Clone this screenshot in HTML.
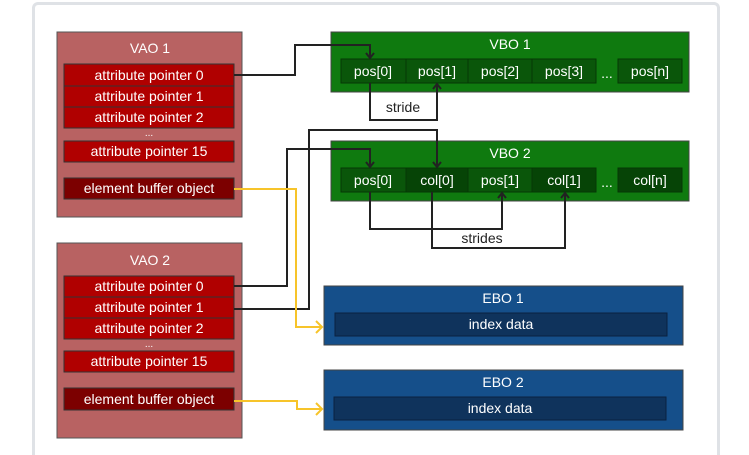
<!DOCTYPE html>
<html><head><style>
html,body{margin:0;width:749px;height:455px;background:#fff;overflow:hidden;position:relative;font-family:"Liberation Sans",sans-serif}
.card{position:absolute;left:32px;top:2px;width:682px;height:450px;border:3px solid #dfe2e6;border-bottom:none;border-radius:6px 6px 0 0;background:#fff}
</style></head><body>
<div class="card"></div>
<svg width="749" height="455" style="position:absolute;left:0;top:0">
<defs>
<marker id="ak" markerWidth="10" markerHeight="10" refX="6" refY="5" orient="auto" markerUnits="userSpaceOnUse"><path d="M1,1 L6,5 L1,9" fill="none" stroke="#222" stroke-width="2"/></marker>
</defs>
<g font-family="Liberation Sans" font-size="14" fill="#fff" text-anchor="middle">
<rect x="57" y="32" width="185" height="185" fill="#b86262" stroke="#555"/>
<text x="150" y="53">VAO 1</text>
<rect x="64" y="64" width="170" height="22" fill="#b00000" stroke="#333"/><text x="149" y="80">attribute pointer 0</text>
<rect x="64" y="86" width="170" height="21" fill="#b00000" stroke="#333"/><text x="149" y="101">attribute pointer 1</text>
<rect x="64" y="107" width="170" height="21" fill="#b00000" stroke="#333"/><text x="149" y="122">attribute pointer 2</text>
<text x="149" y="136" font-size="10">...</text>
<rect x="64" y="141" width="170" height="21" fill="#b00000" stroke="#333"/><text x="149" y="156">attribute pointer 15</text>
<rect x="64" y="178" width="170" height="21" fill="#7c0000" stroke="#333"/><text x="149" y="193">element buffer object</text>
<rect x="57" y="243" width="185" height="195" fill="#b86262" stroke="#555"/>
<text x="150" y="265">VAO 2</text>
<rect x="64" y="276" width="170" height="21" fill="#b00000" stroke="#333"/><text x="149" y="291">attribute pointer 0</text>
<rect x="64" y="297" width="170" height="21" fill="#b00000" stroke="#333"/><text x="149" y="312">attribute pointer 1</text>
<rect x="64" y="318" width="170" height="21" fill="#b00000" stroke="#333"/><text x="149" y="333">attribute pointer 2</text>
<text x="149" y="347" font-size="10">...</text>
<rect x="64" y="351" width="170" height="21" fill="#b00000" stroke="#333"/><text x="149" y="366">attribute pointer 15</text>
<rect x="64" y="388" width="170" height="22" fill="#7c0000" stroke="#333"/><text x="149" y="404">element buffer object</text>
<rect x="331" y="32" width="358" height="60" fill="#0f7a0f" stroke="#444"/>
<text x="510" y="49">VBO 1</text>
<g fill="#0a560a" stroke="#053805">
<rect x="341" y="59" width="65" height="24"/><rect x="406" y="59" width="62" height="24"/><rect x="468" y="59" width="64" height="24"/><rect x="532" y="59" width="64" height="24"/><rect x="618" y="59" width="64" height="24"/>
</g>
<text x="373" y="76">pos[0]</text><text x="437" y="76">pos[1]</text><text x="500" y="76">pos[2]</text><text x="564" y="76">pos[3]</text><text x="607" y="78">...</text><text x="650" y="76">pos[n]</text>
<rect x="331" y="141" width="358" height="60" fill="#0f7a0f" stroke="#444"/>
<text x="510" y="158">VBO 2</text>
<g stroke="#053805">
<rect x="341" y="168" width="65" height="24" fill="#0a560a"/><rect x="406" y="168" width="62" height="24" fill="#064406"/><rect x="468" y="168" width="64" height="24" fill="#0a560a"/><rect x="532" y="168" width="64" height="24" fill="#064406"/><rect x="618" y="168" width="64" height="24" fill="#064406"/>
</g>
<text x="373" y="185">pos[0]</text><text x="437" y="185">col[0]</text><text x="500" y="185">pos[1]</text><text x="564" y="185">col[1]</text><text x="607" y="187">...</text><text x="650" y="185">col[n]</text>
<rect x="324" y="286" width="359" height="59" fill="#154f8a" stroke="#444"/>
<text x="503" y="303">EBO 1</text>
<rect x="335" y="313" width="332" height="23" fill="#0f335c" stroke="#0a2240"/>
<text x="501" y="329">index data</text>
<rect x="324" y="370" width="359" height="60" fill="#154f8a" stroke="#444"/>
<text x="503" y="387">EBO 2</text>
<rect x="334" y="397" width="332" height="23" fill="#0f335c" stroke="#0a2240"/>
<text x="500" y="413">index data</text>
</g>
<g fill="none" stroke="#222" stroke-width="2">
<path d="M234,75 H295 V45 H370 V58" marker-end="url(#ak)"/>
<path d="M370,83 V120 H437 V84" marker-end="url(#ak)"/>
<path d="M234,286 H287 V149 H370 V167" marker-end="url(#ak)"/>
<path d="M234,309 H309 V130 H437 V167" marker-end="url(#ak)"/>
<path d="M370,192 V229 H502 V193" marker-end="url(#ak)"/>
<path d="M432,192 V248 H565 V193" marker-end="url(#ak)"/>
</g>
<g fill="none" stroke="#f7c42a" stroke-width="2">
<path d="M234,189 H296 V327 H322"/><path d="M316,321 L322,327 L316,333"/>
<path d="M234,401 H297 V409 H322"/><path d="M316,403 L322,409 L316,415"/>
</g>
<g font-family="Liberation Sans" font-size="14" fill="#222" text-anchor="middle">
<text x="403" y="112">stride</text>
<text x="482" y="243">strides</text>
</g>
</svg>
</body></html>
